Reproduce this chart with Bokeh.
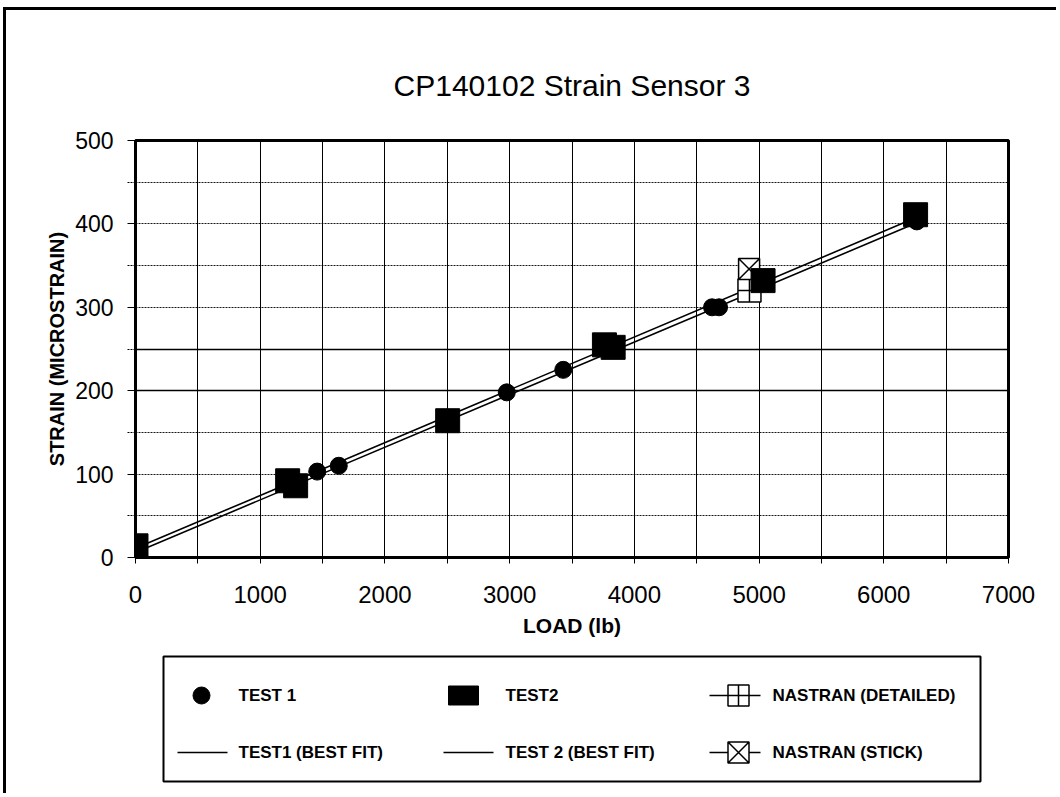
from bokeh.plotting import figure
from bokeh.models import Range1d, FixedTicker, Grid
from bokeh.layouts import column
from bokeh.core.properties import value
from bokeh.embed import file_html
from bokeh.resources import INLINE

# ---------------- data ----------------
test1_load = [0, 1457, 1630, 2977, 3430, 4623, 4679, 6265]
test1_strain = [1, 103, 110, 198, 225, 300, 300, 403]

test2_load = [4, 1220, 1284, 2503, 3760, 3830, 5032, 6255]
test2_strain = [14, 92, 86, 164, 255, 252, 332, 411]

nastran_detailed_load = [4923]
nastran_detailed_strain = [320]
nastran_stick_load = [4920]
nastran_stick_strain = [346]

fit1_load = [0, 6260]
fit1_strain = [6, 401]
fit2_load = [0, 6250]
fit2_strain = [11, 407]

x_ticks = [0, 1000, 2000, 3000, 4000, 5000, 6000, 7000]
x_minor = [500, 1500, 2500, 3500, 4500, 5500, 6500]
y_ticks = [0, 100, 200, 300, 400, 500]
y_minor = [50, 150, 250, 350, 450]

title_text = "CP140102 Strain Sensor 3"
x_title = "LOAD (lb)"
y_title = "STRAIN (MICROSTRAIN)"
legend_labels = ["TEST 1", "TEST2", "NASTRAN (DETAILED)",
                 "TEST1 (BEST FIT)", "TEST 2 (BEST FIT)", "NASTRAN (STICK)"]

FONT = "Liberation Sans"

# ---------------- main chart ----------------
p = figure(width=1050, height=635, x_range=Range1d(0, 7000), y_range=Range1d(0, 500),
           output_backend="svg", toolbar_location=None,
           min_border_left=129, min_border_right=48, min_border_top=130, min_border_bottom=88)
p.background_fill_color = "white"
p.border_fill_color = "white"
p.outline_line_color = "black"
p.outline_line_width = 3

p.title.text = title_text
p.title.align = "center"
p.title.text_font = FONT
p.title.text_font_size = "30px"
p.title.text_font_style = "normal"
p.title.text_color = "black"
p.title.standoff = 78

p.xaxis.ticker = FixedTicker(ticks=x_ticks, minor_ticks=x_minor)
p.yaxis.ticker = FixedTicker(ticks=y_ticks, minor_ticks=y_minor)
for ax in (p.xaxis, p.yaxis):
    ax.axis_line_color = "black"
    ax.axis_line_width = 3
    ax.major_tick_in = 0
    ax.minor_tick_in = 0
    ax.major_tick_line_color = "black"
    ax.minor_tick_line_color = "black"
    ax.major_label_text_font = FONT
    ax.major_label_text_color = "black"
    ax.axis_label_text_font = FONT
    ax.axis_label_text_font_style = "bold"
    ax.axis_label_text_color = "black"
p.xaxis.axis_label = x_title
p.yaxis.axis_label = y_title
p.xaxis.axis_label_text_font_size = "21px"
p.yaxis.axis_label_text_font_size = "20px"
p.xaxis.axis_label_standoff = 8
p.yaxis.axis_label_standoff = 4
p.xaxis.major_tick_out = 6
p.xaxis.minor_tick_out = 6
p.xaxis.major_label_text_font_size = "24px"
p.xaxis.major_label_standoff = 22
p.yaxis.major_tick_out = 8
p.yaxis.minor_tick_out = 8
p.yaxis.minor_tick_line_dash = "2 1"
p.yaxis.major_label_text_font_size = "23px"
p.yaxis.major_label_standoff = 14

p.xgrid.ticker = FixedTicker(ticks=x_ticks + x_minor)
p.xgrid.grid_line_color = "black"
p.xgrid.grid_line_alpha = 1.0
p.xgrid.grid_line_width = 1
p.ygrid.ticker = FixedTicker(ticks=y_ticks[1:-1] + y_minor)
p.ygrid.grid_line_color = "black"
p.ygrid.grid_line_dash = "2 1"
p.ygrid.grid_line_width = 1
p.ygrid.grid_line_alpha = 0.9
p.add_layout(Grid(dimension=1, ticker=FixedTicker(ticks=[200, 250]),
                  grid_line_color="black", grid_line_width=1.5))

# best-fit lines
p.line(fit1_load, fit1_strain, line_color="black", line_width=1.6)
p.line(fit2_load, fit2_strain, line_color="black", line_width=1.6)

# markers
p.scatter(test1_load, test1_strain, marker="circle", size=17, fill_color="black",
          line_color="black")
p.scatter(nastran_detailed_load, nastran_detailed_strain, marker="square_cross", size=23,
          fill_color="white", line_color="black", line_width=1.5)
p.scatter(nastran_stick_load, nastran_stick_strain, marker="square_x", size=21,
          fill_color="white", line_color="black", line_width=1.5)
p.scatter(test2_load, test2_strain, marker="square", size=24, fill_color="black",
          line_color="black")

# ---------------- legend panel (frame aligned with the chart frame) ----------------
lg = figure(width=1050, height=148, x_range=Range1d(135, 1008), y_range=Range1d(793, 645),
            output_backend="svg", toolbar_location=None,
            min_border_left=129, min_border_right=48, min_border_top=0, min_border_bottom=0,
            x_axis_location=None, y_axis_location=None)
lg.outline_line_color = None
lg.background_fill_color = "white"
lg.border_fill_color = "white"
lg.grid.grid_line_color = None

lg.quad(left=[163], right=[980], top=[656], bottom=[781], fill_color=None,
        line_color="black", line_width=2)

r1, r2 = 695, 752
lg.scatter([201], [r1], marker="circle", size=17, fill_color="black", line_color="black")
lg.rect([463], [r1], width=30, height=19, width_units="screen", height_units="screen",
        fill_color="black", line_color="black")
lg.segment(x0=[709], x1=[760], y0=[r1], y1=[r1], line_color="black", line_width=1.5)
lg.scatter([738], [r1], marker="square_cross", size=21, fill_color="white",
           line_color="black", line_width=1.5)
lg.segment(x0=[177, 443], x1=[227, 493], y0=[r2, r2], y1=[r2, r2], line_color="black",
           line_width=1.5)
lg.segment(x0=[709], x1=[760], y0=[r2], y1=[r2], line_color="black", line_width=1.5)
lg.scatter([738], [r2], marker="square_x", size=21, fill_color="white",
           line_color="black", line_width=1.5)

lg.text(x=[238, 505, 772, 238, 505, 772], y=[r1, r1, r1, r2, r2, r2], text=legend_labels,
        text_font=value(FONT), text_font_size="17px", text_font_style="bold",
        text_baseline="middle", text_align="left", text_color="black")

layout = column(p, lg, spacing=0,
                styles={"border-top": "3px solid black", "border-left": "3px solid black",
                        "margin-top": "7px", "margin-left": "3px"})

open("out.html", "w").write(file_html(layout, INLINE))
